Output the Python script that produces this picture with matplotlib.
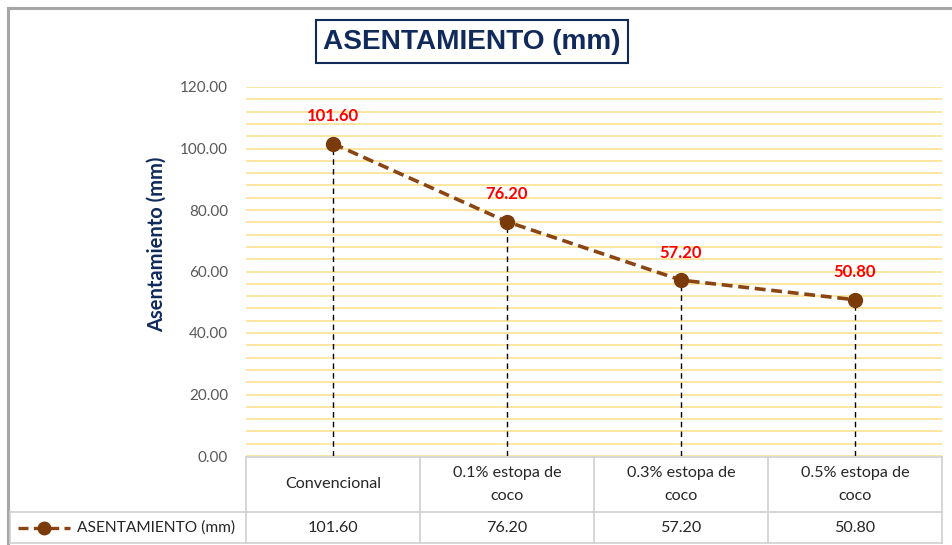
import matplotlib
matplotlib.use("Agg")
import matplotlib.pyplot as plt
from matplotlib.lines import Line2D
from matplotlib.patches import Rectangle
import numpy as np

categories = ["Convencional", "0.1% estopa de\ncoco", "0.3% estopa de\ncoco", "0.5% estopa de\ncoco"]
values = [101.60, 76.20, 57.20, 50.80]
series_name = "ASENTAMIENTO (mm)"
title = "ASENTAMIENTO (mm)"
y_label = "Asentamiento (mm)"
y_ticks = [0, 20, 40, 60, 80, 100, 120]

W, H = 952, 545
fig = plt.figure(figsize=(W / 100, H / 100), dpi=100)
fig.patch.set_facecolor("white")

def fx(px):
    return px / W

def fy(py):
    return 1 - py / H

BODY = "Lato"
NAVY = "#102A5C"
BROWN = "#8B4513"
GRID = "#FDE49B"
BORDER = "#D0D0D0"

# outer chart frame (top and left edges)
fig.add_artist(Line2D([fx(8), fx(952)], [fy(8), fy(8)], color="#A6A6A6", lw=2.2, transform=fig.transFigure))
fig.add_artist(Line2D([fx(8), fx(8)], [fy(8), fy(545)], color="#A6A6A6", lw=2.2, transform=fig.transFigure))

# plot area
left, right, top, bottom = 246, 942, 87, 456
ax = fig.add_axes([fx(left), fy(bottom), fx(right - left), fy(top) - fy(bottom)])
x = np.arange(len(values))
ax.set_xlim(-0.5, len(values) - 0.5)
ax.set_ylim(0, 120)
for s in ax.spines.values():
    s.set_visible(False)
ax.set_yticks(y_ticks)
ax.set_yticklabels([f"{t:.2f}" for t in y_ticks], fontsize=11, color="#595959", family=BODY)
ax.set_yticks(np.arange(0, 121, 4), minor=True)
ax.tick_params(axis="y", which="both", length=0, pad=13)
ax.set_xticks([])
ax.grid(axis="y", which="both", color=GRID, lw=1.3)
ax.set_axisbelow(True)

# drop lines from each point to the axis
for xi, v in zip(x, values):
    ax.plot([xi, xi], [0, v], color="black", lw=1.0, ls=(0, (4, 3)), zorder=2)

ax.plot(x, values, color=BROWN, lw=2.6, ls=(0, (3, 1.6)), marker="o", markersize=10,
        markerfacecolor="#7A3A0A", markeredgecolor="#7A3A0A", zorder=3)

for xi, v in zip(x, values):
    ax.annotate(f"{v:.2f}", (xi, v), xytext=(0, 14), textcoords="offset points",
                ha="center", va="bottom", color="#FF0000", fontsize=12, fontweight="bold", family=BODY)

# axis title
fig.text(fx(157), fy(244), y_label, rotation=90, ha="center", va="center",
         color=NAVY, fontsize=14.5, fontweight="bold", family=BODY)

# boxed chart title
fig.add_artist(Rectangle((fx(316), fy(63)), fx(628 - 316), fy(20) - fy(63), transform=fig.transFigure,
                         fill=False, edgecolor=NAVY, lw=1.5))
fig.text(fx(472), fy(42), title, ha="center", va="center", color=NAVY,
         fontsize=20.2, fontweight="bold", family="Liberation Sans")

# data table
row_top, row_mid, row_bot = 457, 512, 543
col_edges = [left + i * (right - left) / len(values) for i in range(len(values) + 1)]
lk = dict(color=BORDER, lw=1.2, transform=fig.transFigure)
fig.add_artist(Line2D([fx(left), fx(right)], [fy(row_top), fy(row_top)], **lk))
fig.add_artist(Line2D([fx(10), fx(right)], [fy(row_mid), fy(row_mid)], **lk))
fig.add_artist(Line2D([fx(10), fx(right)], [fy(row_bot), fy(row_bot)], **lk))
fig.add_artist(Line2D([fx(10), fx(10)], [fy(row_mid), fy(row_bot)], **lk))
for ce in col_edges:
    fig.add_artist(Line2D([fx(ce), fx(ce)], [fy(row_top), fy(row_bot)], **lk))

TFS = 11.6
for i, (cat, v) in enumerate(zip(categories, values)):
    cx = (col_edges[i] + col_edges[i + 1]) / 2
    fig.text(fx(cx), fy((row_top + row_mid) / 2), cat, ha="center", va="center",
             fontsize=TFS, color="#262626", family=BODY, linespacing=1.8)
    fig.text(fx(cx), fy((row_mid + row_bot) / 2), f"{v:.2f}", ha="center", va="center",
             fontsize=TFS, color="#262626", family=BODY)

# legend key inside the table
ky = fy((row_mid + row_bot) / 2)
fig.add_artist(Line2D([fx(18), fx(70)], [ky, ky], color=BROWN, lw=2.4, ls=(0, (3, 1.6)),
                      transform=fig.transFigure))
fig.add_artist(Line2D([fx(44)], [ky], color="#7A3A0A", marker="o", markersize=9, lw=0,
                      transform=fig.transFigure))
fig.text(fx(77), ky, series_name, ha="left", va="center", fontsize=11.2, color="#262626", family=BODY)

fig.savefig("out.png", dpi=100, facecolor="white")
